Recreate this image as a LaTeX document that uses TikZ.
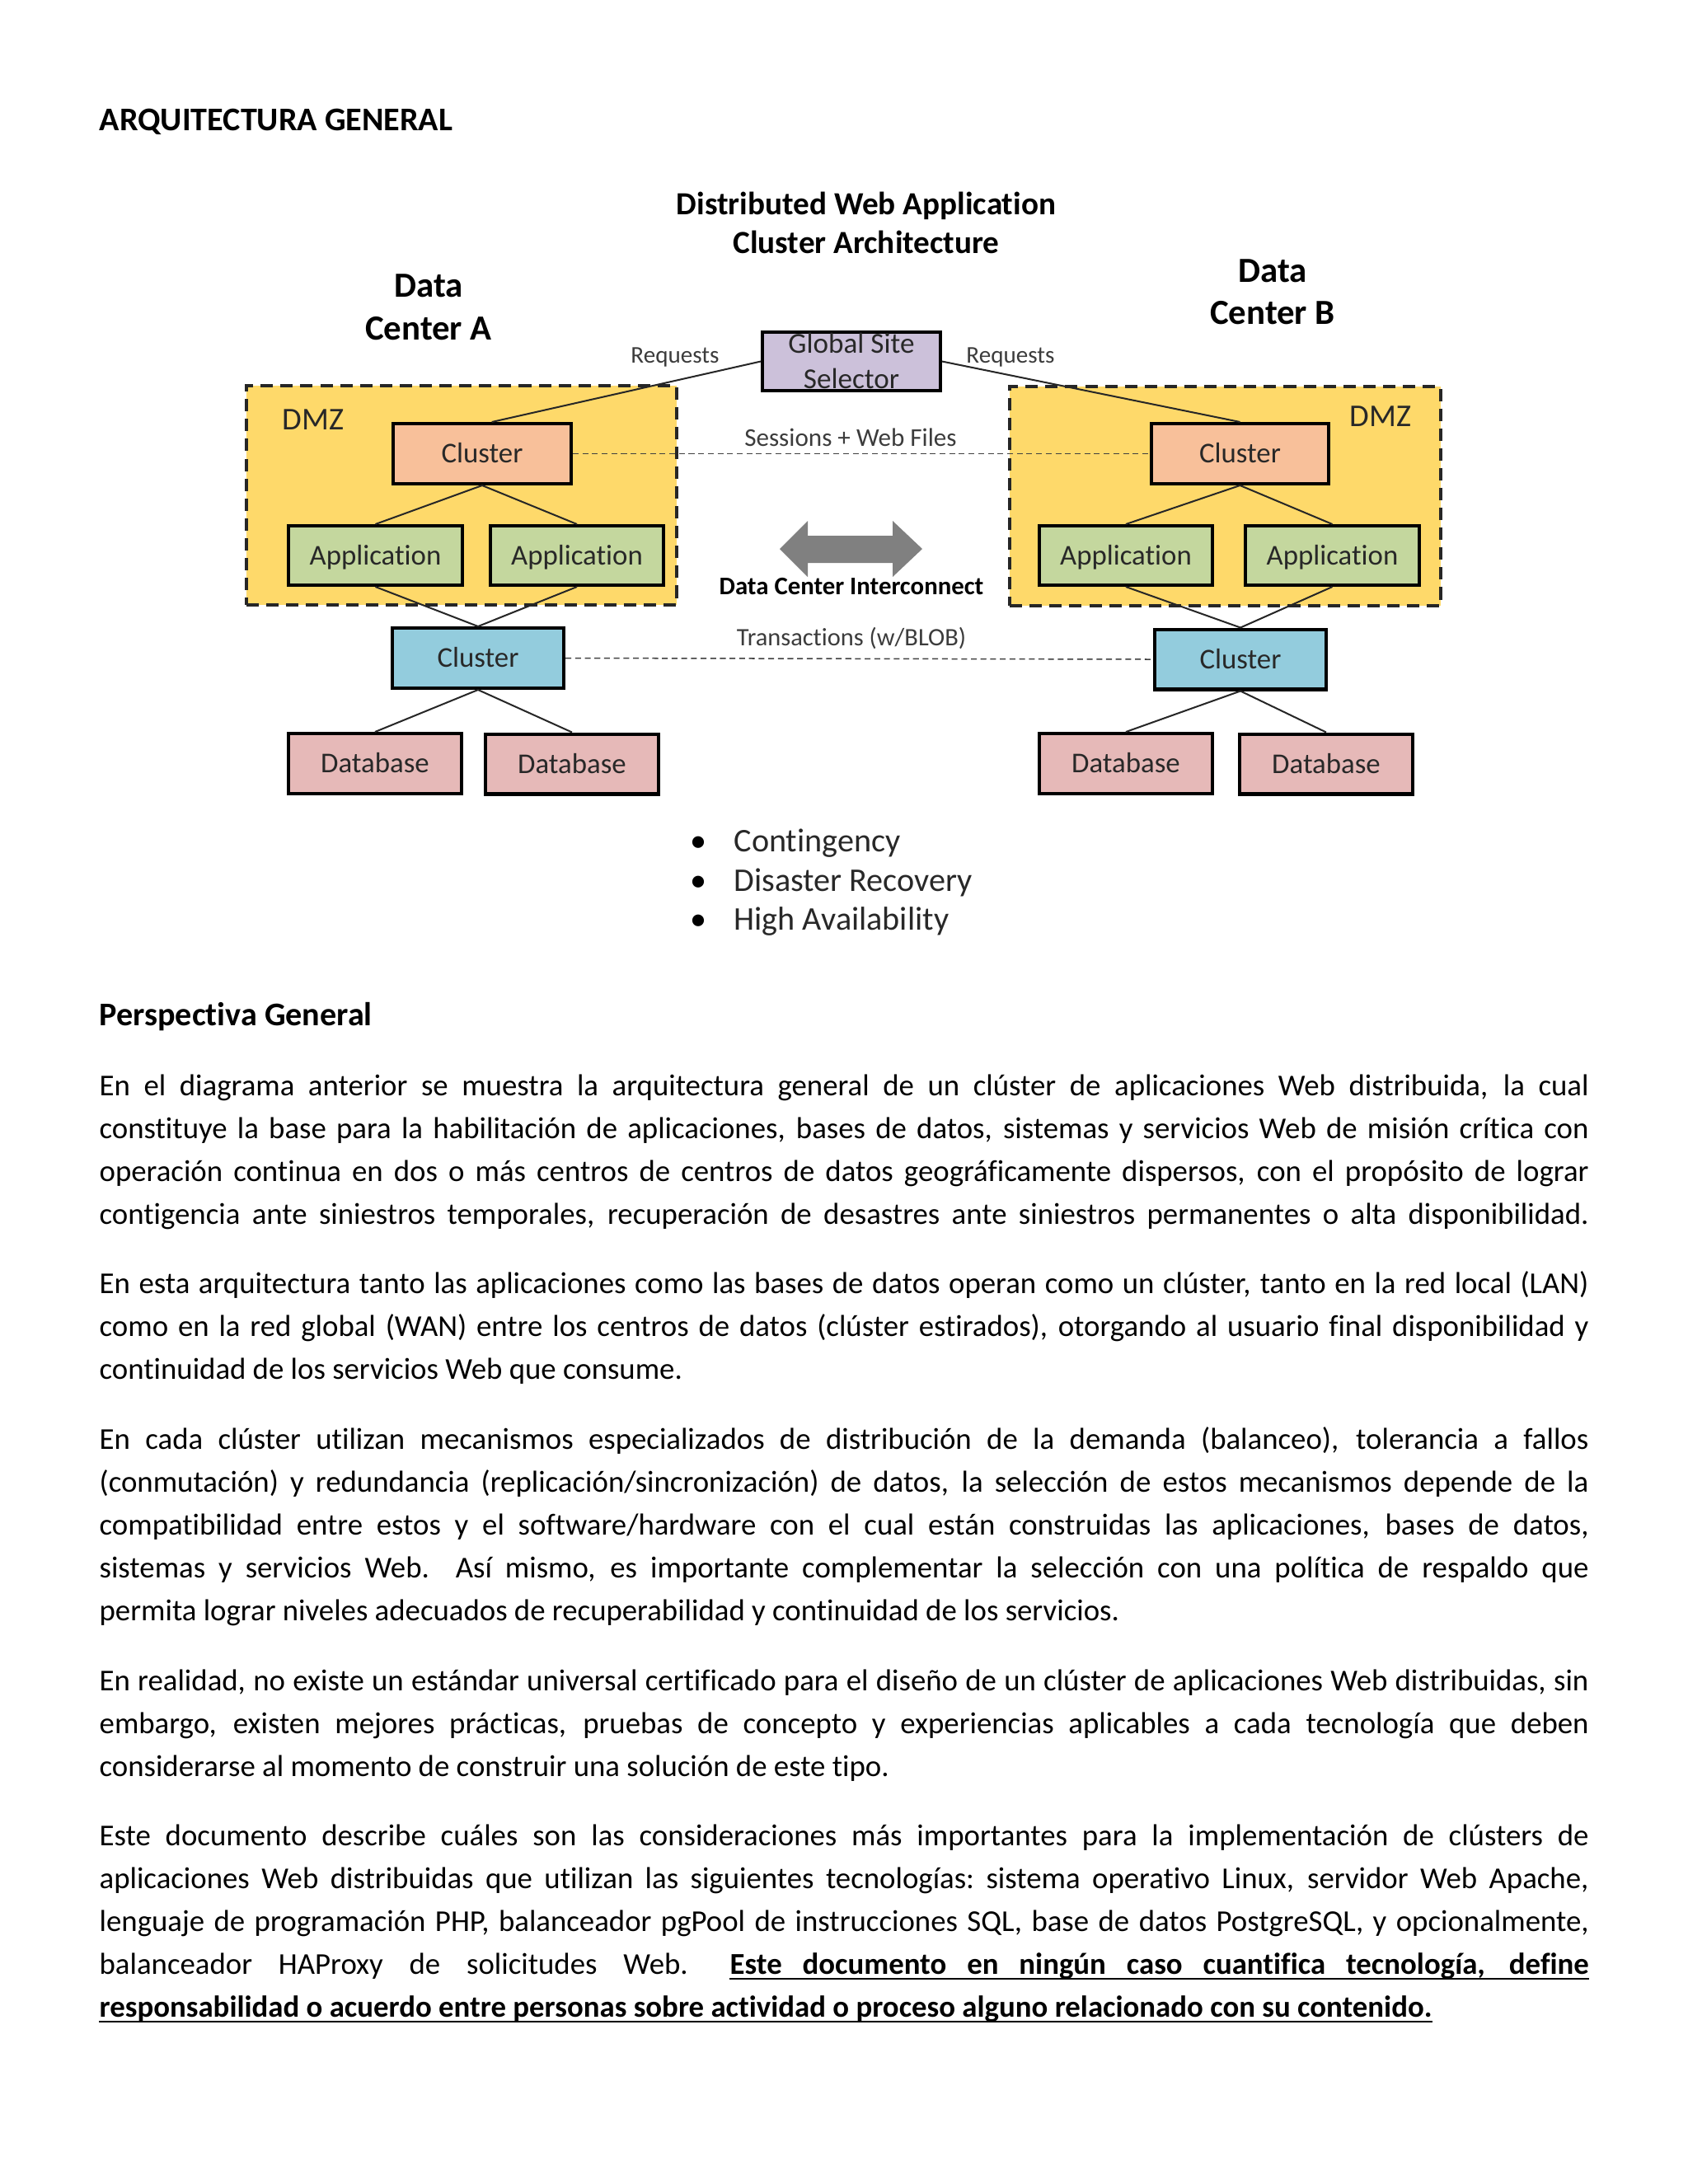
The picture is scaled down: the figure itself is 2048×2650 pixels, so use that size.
\documentclass[tikz,border=0pt]{standalone}
\usepackage{fontspec}
\setmainfont{Carlito}[Ligatures={NoCommon,NoContextual}]
\definecolor{dmzyellow}{RGB}{254,217,106}
\definecolor{clorange}{RGB}{248,192,154}
\definecolor{appgreen}{RGB}{196,215,158}
\definecolor{clblue}{RGB}{147,204,221}
\definecolor{dbpink}{RGB}{230,185,184}
\definecolor{gsslav}{RGB}{204,193,218}
\definecolor{labgray}{RGB}{60,60,60}
\definecolor{arrgray}{RGB}{128,128,128}
\definecolor{boxtext}{RGB}{40,40,40}
\newcommand{\jl}[3]{\node[txt] (#1) at (120,#2) {\hbox to 540pt{\spaceskip=0.226em plus 1fil minus 0.2em\xspaceskip=\spaceskip #3}};}
\begin{document}
\begin{tikzpicture}[x=0.29883pt,y=-0.29883pt,
  txt/.style={anchor=base west,inner sep=0pt,font=\fontsize{11}{13}\selectfont},
  head/.style={anchor=base west,inner sep=0pt,font=\fontsize{12}{14}\selectfont\bfseries},
  dtitle/.style={anchor=base,inner sep=0pt,font=\fontsize{11.7}{14}\selectfont\bfseries},
  dcenter/.style={anchor=base,inner sep=0pt,font=\fontsize{12.8}{15}\selectfont\bfseries},
  lbl/.style={anchor=base,inner sep=0pt,text=labgray,font=\fontsize{9}{11}\selectfont},
  box/.style={draw=black,line width=1.3pt,inner sep=0pt,text=boxtext,
    font=\fontsize{10.4}{12}\selectfont,text height=6.7pt,text depth=0pt},
  gssbox/.style={box,fill=gsslav,minimum width=64.4pt,minimum height=21.1pt},
  orbox/.style={box,fill=clorange,minimum width=64.4pt,minimum height=21.7pt},
  appbox/.style={box,fill=appgreen,minimum width=62.9pt,minimum height=21.4pt},
  blbox/.style={box,fill=clblue,minimum width=62.1pt,minimum height=21.7pt},
  dbbox/.style={box,fill=dbpink,minimum width=62.9pt,minimum height=21.7pt},
  dmz/.style={draw=black!85,fill=dmzyellow,line width=1.3pt,dash pattern=on 4.5pt off 2.7pt,inner sep=0pt},
  link/.style={draw=black!85,line width=0.6pt},
  repl/.style={draw=black!75,line width=0.45pt,dash pattern=on 2.1pt off 1.4pt}
]
\useasboundingbox[fill=white] (0,0) rectangle (2048,2650);

% ---------- heading ----------
\node[head] (h1) at (120,158) {ARQUITECTURA GENERAL};

% ---------- diagram ----------
\node[dtitle] (t1) at (1051,260) {Distributed Web Application};
\node[dtitle] (t2) at (1051,307) {Cluster Architecture};
\node[dcenter] (dca1) at (520,360) {Data};
\node[dcenter] (dca2) at (520,412) {Center A};
\node[dcenter] (dcb1) at (1544,342) {Data};
\node[dcenter] (dcb2) at (1544,393) {Center B};

\node[dmz,minimum width=155.9pt,minimum height=79.4pt] (dmzA) at (560,601) {};
\node[dmz,minimum width=156.2pt,minimum height=79.4pt] (dmzB) at (1486.5,602) {};
\node[anchor=base west,inner sep=0pt,font=\fontsize{11.5}{13}\selectfont,text=boxtext] (dmzAl) at (342,521) {DMZ};
\node[anchor=base west,inner sep=0pt,font=\fontsize{11.5}{13}\selectfont,text=boxtext] (dmzBl) at (1637,517) {DMZ};

\node[gssbox] (gss) at (1033,438.5) {};
\node[anchor=base,inner sep=0pt,font=\fontsize{10.5}{12}\selectfont,text=boxtext] (gss1) at (1033,428) {Global Site};
\node[anchor=base,inner sep=0pt,font=\fontsize{10.5}{12}\selectfont,text=boxtext] (gss2) at (1033,471) {Selector};

\node[orbox] (cA) at (585,550.5) {Cluster};
\node[orbox] (cB) at (1504.5,550.5) {Cluster};
\node[appbox] (aA1) at (455.5,674) {Application};
\node[appbox] (aA2) at (700,674) {Application};
\node[appbox] (aB1) at (1366,674) {Application};
\node[appbox] (aB2) at (1616.5,674) {Application};
\node[blbox] (bA) at (580,798.5) {Cluster};
\node[blbox] (bB) at (1505,800) {Cluster};
\node[dbbox] (dA1) at (455,926.5) {Database};
\node[dbbox] (dA2) at (694,927) {Database};
\node[dbbox] (dB1) at (1366,926.5) {Database};
\node[dbbox] (dB2) at (1609,927) {Database};

% links
\draw[link] (gss.west) -- ([xshift=3.5pt]cA.north);
\draw[link] (gss.east) -- (cB.north);
\draw[link] (cA.south) -- (aA1.north);
\draw[link] (cA.south) -- (aA2.north);
\draw[link] (aA1.south) -- (bA.north);
\draw[link] (aA2.south) -- (bA.north);
\draw[link] (bA.south) -- (dA1.north);
\draw[link] (bA.south) -- (dA2.north);
\draw[link] (cB.south) -- (aB1.north);
\draw[link] (cB.south) -- (aB2.north);
\draw[link] (aB1.south) -- (bB.north);
\draw[link] (aB2.south) -- (bB.north);
\draw[link] (bB.south) -- (dB1.north);
\draw[link] (bB.south) -- (dB2.north);
\draw[repl] (cA.east) -- (cB.west);
\draw[repl] (bA.east) -- (bB.west);

\node[lbl,font=\fontsize{8.7}{10}\selectfont] (rq1) at (819,440) {Requests};
\node[lbl,font=\fontsize{8.7}{10}\selectfont] (rq2) at (1226,440) {Requests};
\node[lbl,font=\fontsize{9.3}{11}\selectfont] (swf) at (1032,541) {Sessions + Web Files};
\node[lbl,font=\fontsize{9.1}{11}\selectfont] (trx) at (1033,783) {Transactions (w/BLOB)};
\node[anchor=base,inner sep=0pt,font=\fontsize{9.2}{11}\selectfont\bfseries] (dci) at (1033,721) {Data Center Interconnect};

% interconnect double arrow
\fill[arrgray] (946,666) -- (980,632) -- (980,650) -- (1083,650) -- (1083,632)
  -- (1119,666) -- (1083,700) -- (1083,683) -- (980,683) -- (980,700) -- cycle;

% bullets
\node[anchor=base,inner sep=0pt,font=\fontsize{12}{14}\selectfont] (b1) at (847,1033) {•};
\node[anchor=base,inner sep=0pt,font=\fontsize{12}{14}\selectfont] (b2) at (847,1081) {•};
\node[anchor=base,inner sep=0pt,font=\fontsize{12}{14}\selectfont] (b3) at (847,1128) {•};
\node[anchor=base west,inner sep=0pt,font=\fontsize{12}{14}\selectfont,text=boxtext] (bt1) at (890,1033) {Contingency};
\node[anchor=base west,inner sep=0pt,font=\fontsize{12}{14}\selectfont,text=boxtext] (bt2) at (890,1081) {Disaster Recovery};
\node[anchor=base west,inner sep=0pt,font=\fontsize{12}{14}\selectfont,text=boxtext] (bt3) at (890,1128) {High Availability};

% ---------- body text ----------
\node[head] (h2) at (120,1244) {Perspectiva General};

\jl{p1a}{1329}{En el diagrama anterior se muestra la arquitectura general de un clúster de aplicaciones Web distribuida, la cual}
\jl{p1b}{1381}{constituye la base para la habilitación de aplicaciones, bases de datos, sistemas y servicios Web de misión crítica con}
\jl{p1c}{1433}{operación continua en dos o más centros de centros de datos geográficamente dispersos, con el propósito de lograr}
\jl{p1d}{1485}{contigencia ante siniestros temporales, recuperación de desastres ante siniestros permanentes o alta disponibilidad.}

\jl{p2a}{1569}{En esta arquitectura tanto las aplicaciones como las bases de datos operan como un clúster, tanto en la red local (LAN)}
\jl{p2b}{1621}{como en la red global (WAN) entre los centros de datos (clúster estirados), otorgando al usuario final disponibilidad y}
\node[txt] (p2c) at (120,1673) {continuidad de los servicios Web que consume.};

\jl{p3a}{1758}{En cada clúster utilizan mecanismos especializados de distribución de la demanda (balanceo), tolerancia a fallos}
\jl{p3b}{1810}{(conmutación) y redundancia (replicación/sincronización) de datos, la selección de estos mecanismos depende de la}
\jl{p3c}{1862}{compatibilidad entre estos y el software/hardware con el cual están construidas las aplicaciones, bases de datos,}
\jl{p3d}{1914}{sistemas y servicios Web.\ \ Así mismo, es importante complementar la selección con una política de respaldo que}
\node[txt] (p3e) at (120,1966) {permita lograr niveles adecuados de recuperabilidad y continuidad de los servicios.};

\jl{p4a}{2051}{En realidad, no existe un estándar universal certificado para el diseño de un clúster de aplicaciones Web distribuidas, sin}
\jl{p4b}{2103}{embargo, existen mejores prácticas, pruebas de concepto y experiencias aplicables a cada tecnología que deben}
\node[txt] (p4c) at (120,2155) {considerarse al momento de construir una solución de este tipo.};

\jl{p5a}{2239}{Este documento describe cuáles son las consideraciones más importantes para la implementación de clústers de}
\jl{p5b}{2291}{aplicaciones Web distribuidas que utilizan las siguientes tecnologías: sistema operativo Linux, servidor Web Apache,}
\jl{p5c}{2343}{lenguaje de programación PHP, balanceador pgPool de instrucciones SQL, base de datos PostgreSQL, y opcionalmente,}
\node[txt] (p5d) at (120,2395) {\hbox to 213.4pt{\spaceskip=0.226em plus 1fil minus 0.2em\xspaceskip=\spaceskip balanceador HAProxy de solicitudes Web.}};
\node[txt,font=\fontsize{11}{13}\selectfont\bfseries] (p5e) at (885,2395) {\hbox to 311.4pt{\spaceskip=0.226em plus 1fil minus 0.2em\xspaceskip=\spaceskip Este documento en ningún caso cuantifica tecnología, define}};
\node[txt,font=\fontsize{11}{13}\selectfont\bfseries] (p5f) at (120,2447) {responsabilidad o acuerdo entre personas sobre actividad o proceso alguno relacionado con su contenido.};
\draw[line width=0.65pt] ([yshift=-1.9pt]p5e.base west) -- ([yshift=-1.9pt]p5e.base east);
\draw[line width=0.65pt] ([yshift=-1.9pt]p5f.base west) -- ([yshift=-1.9pt]p5f.base east);
\end{tikzpicture}
\end{document}
